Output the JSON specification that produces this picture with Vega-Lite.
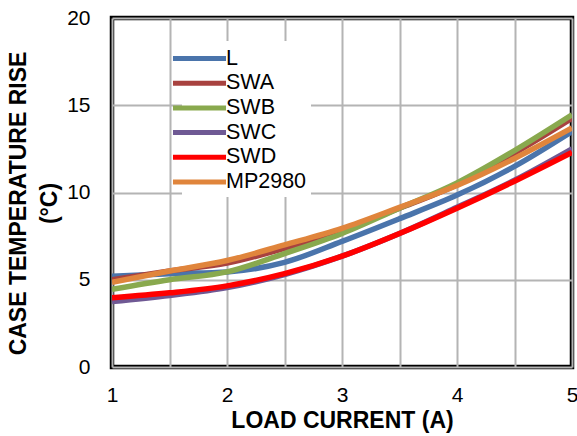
{
  "$schema": "https://vega.github.io/schema/vega-lite/v6.json",
  "autosize": {"type": "none"},
  "width": 460,
  "height": 349,
  "padding": {"left": 112, "top": 18, "right": 5, "bottom": 69},
  "background": "white",
  "config": {
    "font": "Liberation Sans",
    "view": {"stroke": "black", "strokeWidth": 4.5},
    "axis": {
      "labelFont": "Liberation Sans",
      "titleFont": "Liberation Sans",
      "labelColor": "black",
      "titleColor": "black",
      "labelFontSize": 21,
      "titleFontSize": 23,
      "titleFontWeight": "bold",
      "domain": false,
      "ticks": false,
      "gridColor": "#b4b4b4",
      "gridWidth": 2,
      "gridOpacity": 1
    },
    "legend": {
      "labelFont": "Liberation Sans",
      "labelFontSize": 21.5,
      "labelColor": "black"
    }
  },
  "data": {
    "values": [
      {"current": 1.0, "rise": 5.2, "device": "L"},
      {"current": 1.5, "rise": 5.35, "device": "L"},
      {"current": 2.0, "rise": 5.45, "device": "L"},
      {"current": 2.5, "rise": 6.0, "device": "L"},
      {"current": 3.0, "rise": 7.2, "device": "L"},
      {"current": 3.5, "rise": 8.5, "device": "L"},
      {"current": 4.0, "rise": 9.85, "device": "L"},
      {"current": 4.5, "rise": 11.5, "device": "L"},
      {"current": 5.0, "rise": 13.5, "device": "L"},

      {"current": 1.0, "rise": 5.0, "device": "SWA"},
      {"current": 1.5, "rise": 5.5, "device": "SWA"},
      {"current": 2.0, "rise": 5.95, "device": "SWA"},
      {"current": 2.5, "rise": 6.8, "device": "SWA"},
      {"current": 3.0, "rise": 7.85, "device": "SWA"},
      {"current": 3.5, "rise": 9.1, "device": "SWA"},
      {"current": 4.0, "rise": 10.45, "device": "SWA"},
      {"current": 4.5, "rise": 12.25, "device": "SWA"},
      {"current": 5.0, "rise": 14.25, "device": "SWA"},

      {"current": 1.0, "rise": 4.45, "device": "SWB"},
      {"current": 1.5, "rise": 5.0, "device": "SWB"},
      {"current": 2.0, "rise": 5.45, "device": "SWB"},
      {"current": 2.5, "rise": 6.5, "device": "SWB"},
      {"current": 3.0, "rise": 7.65, "device": "SWB"},
      {"current": 3.5, "rise": 9.1, "device": "SWB"},
      {"current": 4.0, "rise": 10.55, "device": "SWB"},
      {"current": 4.5, "rise": 12.4, "device": "SWB"},
      {"current": 5.0, "rise": 14.45, "device": "SWB"},

      {"current": 1.0, "rise": 3.75, "device": "SWC"},
      {"current": 1.5, "rise": 4.1, "device": "SWC"},
      {"current": 2.0, "rise": 4.55, "device": "SWC"},
      {"current": 2.5, "rise": 5.3, "device": "SWC"},
      {"current": 3.0, "rise": 6.35, "device": "SWC"},
      {"current": 3.5, "rise": 7.65, "device": "SWC"},
      {"current": 4.0, "rise": 9.15, "device": "SWC"},
      {"current": 4.5, "rise": 10.7, "device": "SWC"},
      {"current": 5.0, "rise": 12.5, "device": "SWC"},

      {"current": 1.0, "rise": 3.97, "device": "SWD"},
      {"current": 1.5, "rise": 4.25, "device": "SWD"},
      {"current": 2.0, "rise": 4.65, "device": "SWD"},
      {"current": 2.5, "rise": 5.35, "device": "SWD"},
      {"current": 3.0, "rise": 6.35, "device": "SWD"},
      {"current": 3.5, "rise": 7.65, "device": "SWD"},
      {"current": 4.0, "rise": 9.1, "device": "SWD"},
      {"current": 4.5, "rise": 10.65, "device": "SWD"},
      {"current": 5.0, "rise": 12.3, "device": "SWD"},

      {"current": 1.0, "rise": 4.85, "device": "MP2980"},
      {"current": 1.5, "rise": 5.5, "device": "MP2980"},
      {"current": 2.0, "rise": 6.1, "device": "MP2980"},
      {"current": 2.5, "rise": 7.0, "device": "MP2980"},
      {"current": 3.0, "rise": 7.95, "device": "MP2980"},
      {"current": 3.5, "rise": 9.15, "device": "MP2980"},
      {"current": 4.0, "rise": 10.4, "device": "MP2980"},
      {"current": 4.5, "rise": 11.95, "device": "MP2980"},
      {"current": 5.0, "rise": 13.7, "device": "MP2980"}
    ]
  },
  "mark": {"type": "line", "interpolate": "monotone", "strokeWidth": 5.5, "strokeCap": "butt", "clip": true},
  "encoding": {
    "x": {
      "field": "current",
      "type": "quantitative",
      "scale": {"domain": [1, 5], "nice": false, "zero": false},
      "axis": {
        "title": "LOAD CURRENT (A)",
        "values": [1, 1.5, 2, 2.5, 3, 3.5, 4, 4.5, 5],
        "labelExpr": "datum.value % 1 == 0 ? format(datum.value, 'd') : ''",
        "labelPadding": 17,
        "titlePadding": 4,
        "labelFlush": false
      }
    },
    "y": {
      "field": "rise",
      "type": "quantitative",
      "scale": {"domain": [0, 20], "nice": false},
      "axis": {
        "title": ["CASE TEMPERATURE RISE", "(°C)"],
        "values": [0, 5, 10, 15, 20],
        "labelPadding": 22,
        "titlePadding": 5,
        "titleLineHeight": 31,
        "titleY": 185
      }
    },
    "color": {
      "field": "device",
      "type": "nominal",
      "scale": {
        "domain": ["L", "SWA", "SWB", "SWC", "SWD", "MP2980"],
        "range": ["#4a74ab", "#a8423f", "#89a94e", "#6f5994", "#ff0000", "#e0853c"]
      },
      "legend": {
        "title": null,
        "orient": "none",
        "legendX": 70,
        "legendY": 23,
        "fillColor": "white",
        "padding": 4,
        "symbolType": "M-2.5,0H2.5",
        "symbolSize": 450,
        "symbolStrokeWidth": 5,
        "labelOffset": 13,
        "rowPadding": 0.7
      }
    }
  }
}
